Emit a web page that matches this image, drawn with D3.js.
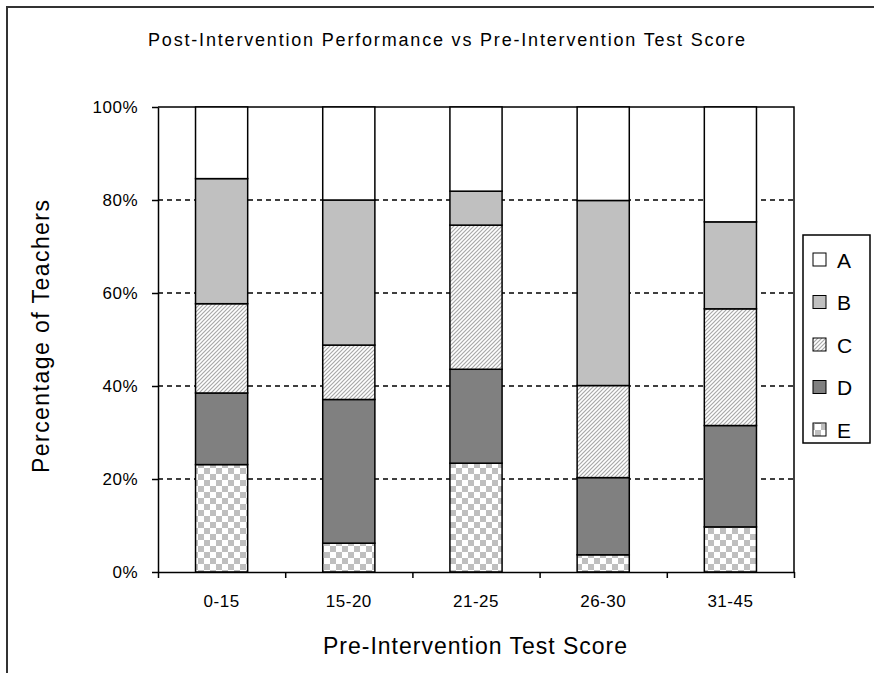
<!DOCTYPE html>
<html>
<head>
<meta charset="utf-8">
<script src="https://cdn.jsdelivr.net/npm/d3@7"></script>
<style>
  body { margin: 0; background: #fff; }
  text { font-family: "Liberation Sans", Arial, sans-serif; fill: #000; }
</style>
</head>
<body>
<div id="chart"></div>
<script>
// categories along the x axis
const categories = ["0-15", "15-20", "21-25", "26-30", "31-45"];
// segment values (percent of teachers), bottom to top: E, D, C, B, A
const seriesE = [23.1, 6.2, 23.4, 3.7, 9.7];
const seriesD = [15.4, 30.9, 20.2, 16.6, 21.8];
const seriesC = [19.2, 11.7, 31.0, 19.8, 25.1];
const seriesB = [26.9, 31.2, 7.3, 39.8, 18.7];
const seriesA = [15.4, 20.0, 18.1, 20.1, 24.7];
const yTicks = [0, 20, 40, 60, 80, 100];
const legendKeys = ["A", "B", "C", "D", "E"];

const WIDTH = 874, HEIGHT = 673;
const PLOT = { LEFT: 158, RIGHT: 794, TOP: 107, BOTTOM: 572 };

const svg = d3.select("#chart").append("svg")
    .attr("width", WIDTH)
    .attr("height", HEIGHT);

// fill patterns
const defs = svg.append("defs");
const hatch = defs.append("pattern")
    .attr("id", "hatch")
    .attr("patternUnits", "userSpaceOnUse")
    .attr("width", 4).attr("height", 4);
hatch.append("rect").attr("width", 4).attr("height", 4).attr("fill", "#fff");
hatch.append("path")
    .attr("d", "M-1,1 l2,-2 M0,4 l4,-4 M3,5 l2,-2")
    .attr("stroke", "#a8a8a8")
    .attr("stroke-width", 1.2);

const checker = defs.append("pattern")
    .attr("id", "checker")
    .attr("patternUnits", "userSpaceOnUse")
    .attr("width", 12).attr("height", 12);
checker.append("rect").attr("width", 12).attr("height", 12).attr("fill", "#fff");
checker.append("rect").attr("width", 6).attr("height", 6).attr("fill", "#bfbfbf");
checker.append("rect").attr("x", 6).attr("y", 6).attr("width", 6).attr("height", 6).attr("fill", "#bfbfbf");

const fills = { A: "#ffffff", B: "#c0c0c0", C: "url(#hatch)", D: "#808080", E: "url(#checker)" };

// outer chart frame
svg.append("path")
    .attr("d", `M7,${HEIGHT} V7 H${WIDTH}`)
    .attr("fill", "none")
    .attr("stroke", "#333")
    .attr("stroke-width", 2);

// title
svg.append("text")
    .attr("x", 148)
    .attr("y", 46)
    .attr("font-size", "18px")
    .attr("textLength", 597)
    .attr("lengthAdjust", "spacing")
    .text("Post-Intervention Performance vs Pre-Intervention Test Score");

// scales
const x = d3.scaleBand()
    .domain(categories)
    .range([PLOT.LEFT, PLOT.RIGHT])
    .paddingInner(0.59)
    .paddingOuter(0.295);
const xEdge = d3.scaleLinear().domain([0, categories.length]).range([PLOT.LEFT, PLOT.RIGHT]);
const y = d3.scaleLinear().domain([0, 100]).range([PLOT.BOTTOM, PLOT.TOP]);

// dashed gridlines
svg.append("g")
    .selectAll("line")
    .data(yTicks.filter(d => d > 0 && d < 100))
    .join("line")
    .attr("x1", PLOT.LEFT).attr("x2", PLOT.RIGHT)
    .attr("y1", d => y(d)).attr("y2", d => y(d))
    .attr("stroke", "#000")
    .attr("stroke-width", 1.5)
    .attr("stroke-dasharray", "5,4");

// plot area top and right border
svg.append("path")
    .attr("d", `M${PLOT.LEFT},${y(100)} H${PLOT.RIGHT} V${PLOT.BOTTOM}`)
    .attr("fill", "none")
    .attr("stroke", "#000")
    .attr("stroke-width", 1.5);

// stacked bars
const rows = categories.map((c, i) => ({
    cat: c, E: seriesE[i], D: seriesD[i], C: seriesC[i], B: seriesB[i], A: seriesA[i]
}));
const stack = d3.stack().keys(["E", "D", "C", "B", "A"]);
const layers = stack(rows);

svg.append("g")
    .selectAll("g")
    .data(layers)
    .join("g")
    .attr("fill", d => fills[d.key])
    .selectAll("rect")
    .data(d => d)
    .join("rect")
    .attr("x", d => x(d.data.cat))
    .attr("width", x.bandwidth())
    .attr("y", d => y(d[1]))
    .attr("height", d => y(d[0]) - y(d[1]))
    .attr("stroke", "#000")
    .attr("stroke-width", 1.5);

// y axis
const yAxis = svg.append("g")
    .attr("transform", `translate(${PLOT.LEFT},0)`)
    .call(d3.axisLeft(y).tickValues(yTicks).tickFormat(d => d + "%").tickSize(6).tickSizeOuter(0).tickPadding(14));
yAxis.select(".domain").attr("stroke", "#000").attr("stroke-width", 1.5);
yAxis.selectAll(".tick line").attr("stroke", "#000").attr("stroke-width", 1.5);
yAxis.selectAll("text").attr("font-size", "17px").attr("font-family", null).attr("letter-spacing", "0.5px");

// x axis line with ticks at category edges
const xAxis = svg.append("g")
    .attr("transform", `translate(0,${PLOT.BOTTOM})`)
    .call(d3.axisBottom(xEdge).tickValues(d3.range(categories.length + 1)).tickFormat("").tickSize(6).tickSizeOuter(0));
xAxis.select(".domain").attr("stroke", "#000").attr("stroke-width", 1.5);
xAxis.selectAll(".tick line").attr("stroke", "#000").attr("stroke-width", 1.5);

// category labels
const xLabels = svg.append("g")
    .attr("transform", `translate(0,${PLOT.BOTTOM})`)
    .call(d3.axisBottom(x).tickSize(0).tickPadding(23));
xLabels.select(".domain").remove();
xLabels.selectAll("text").attr("font-size", "17px").attr("font-family", null).attr("letter-spacing", "0.5px");

// axis titles
svg.append("text")
    .attr("x", 323)
    .attr("y", 654)
    .attr("font-size", "23px")
    .attr("textLength", 304)
    .attr("lengthAdjust", "spacing")
    .text("Pre-Intervention Test Score");

svg.append("text")
    .attr("transform", `translate(49,473) rotate(-90)`)
    .attr("font-size", "23px")
    .attr("textLength", 273)
    .attr("lengthAdjust", "spacing")
    .text("Percentage of Teachers");

// legend
const legend = svg.append("g").attr("transform", "translate(803,235)");
legend.append("rect")
    .attr("width", 67).attr("height", 208)
    .attr("fill", "#fff")
    .attr("stroke", "#000")
    .attr("stroke-width", 1.5);
const item = legend.selectAll("g.item")
    .data(legendKeys)
    .join("g")
    .attr("class", "item")
    .attr("transform", (d, i) => `translate(0,${25 + i * 42.5})`);
item.append("rect")
    .attr("x", 10).attr("y", -7)
    .attr("width", 13).attr("height", 13)
    .attr("fill", d => fills[d])
    .attr("stroke", "#000")
    .attr("stroke-width", 1);
item.append("text")
    .attr("x", 34)
    .attr("dy", "0.36em")
    .attr("font-size", "21px")
    .text(d => d);
</script>
</body>
</html>
